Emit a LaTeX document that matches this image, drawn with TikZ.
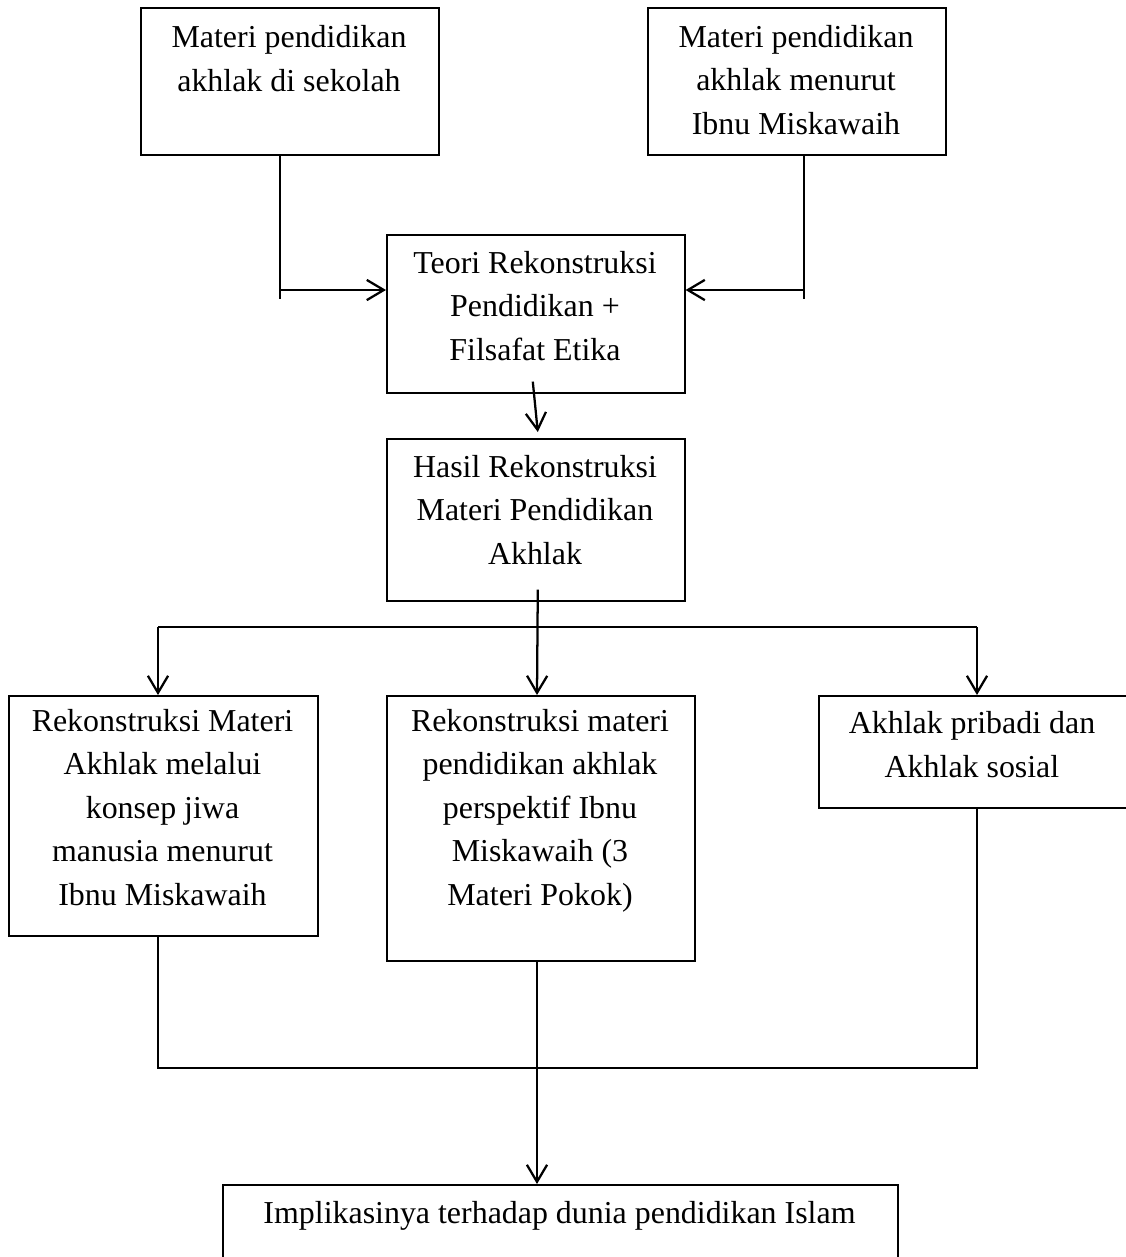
\documentclass[tikz,border=0pt]{standalone}
\usepackage{fontspec}
\setmainfont{Liberation Serif}
\usetikzlibrary{arrows.meta,calc}
\begin{document}
\begin{tikzpicture}[x=0.376pt,y=-0.376pt,
  box/.style={draw, line width=0.6pt, inner sep=0pt, anchor=north west},
  txt/.style={align=center, font=\fontsize{12}{16.3}\selectfont, inner sep=0pt, anchor=base},
  conn/.style={line width=0.85pt},
  arr/.style={conn, -{Straight Barb[length=6.4pt,width=7.6pt]}},
]
\useasboundingbox (0,0) rectangle (1126,1257);
\clip (0,0) rectangle (1126,1257);

% boxes
\node[box, minimum width=298*0.376pt, minimum height=147*0.376pt] (b1) at (140,7) {};
\node[box, minimum width=298*0.376pt, minimum height=147*0.376pt] (b2) at (647,7) {};
\node[box, minimum width=298*0.376pt, minimum height=158*0.376pt] (b3) at (386,234) {};
\node[box, minimum width=298*0.376pt, minimum height=162*0.376pt] (b4) at (386,438) {};
\node[box, minimum width=309*0.376pt, minimum height=240*0.376pt] (b5) at (8,695) {};
\node[box, minimum width=308*0.376pt, minimum height=265*0.376pt] (b6) at (386,695) {};
\node[box, minimum width=309*0.376pt, minimum height=112*0.376pt] (b7) at (818,695) {};
\node[box, minimum width=675*0.376pt, minimum height=90*0.376pt] (b8) at (222,1184) {};

% texts (anchored at the baseline of the last line)
\node[txt] (t1) at (289,91) {Materi pendidikan\\akhlak di sekolah};
\node[txt] (t2) at (796,134) {Materi pendidikan\\akhlak menurut\\Ibnu Miskawaih};
\node[txt] (t3) at (535,360) {Teori Rekonstruksi\\Pendidikan +\\Filsafat Etika};
\node[txt] (t4) at (535,564) {Hasil Rekonstruksi\\Materi Pendidikan\\Akhlak};
\node[txt] (t5) at (162.5,905) {Rekonstruksi Materi\\Akhlak melalui\\konsep jiwa\\manusia menurut\\Ibnu Miskawaih};
\node[txt] (t6) at (540,905) {Rekonstruksi materi\\pendidikan akhlak\\perspektif Ibnu\\Miskawaih (3\\Materi Pokok)};
\node[txt] (t7) at (972,777) {Akhlak pribadi dan\\Akhlak sosial};
\node[txt] (t8) at (559.5,1223) {Implikasinya terhadap dunia pendidikan Islam};

% top inputs
\coordinate (j1) at (280,290);
\coordinate (j2) at (804,290);
\draw[conn] (b1.south -| j1) -- (j1) -- ++(0,9);
\draw[arr] (j1) -- (j1 -| b3.west);
\draw[conn] (b2.south -| j2) -- (j2) -- ++(0,9);
\draw[arr] (j2) -- (j2 -| b3.east);

% b3 -> b4
\draw[arr] ($(b3.south)+(-3,-12)$) -- ($(b4.north)+(2,-6)$);

% split
\coordinate (s) at (537,627);
\coordinate (sl) at (158,627);
\coordinate (sr) at (977,627);
\draw[arr] ($(b4.south)+(2,-12)$) -- (b6.north -| s);
\draw[conn] (sl) -- (sr);
\draw[arr] (sl) -- (sl |- b5.north);
\draw[arr] (sr) -- (sr |- b7.north);

% collector
\coordinate (cl) at (158,1068);
\coordinate (cr) at (977,1068);
\draw[conn] (cl |- b5.south) -- (cl) -- (cr) -- (cr |- b7.south);
\draw[arr] (b6.south -| s) -- (b8.north -| s);
\end{tikzpicture}
\end{document}
